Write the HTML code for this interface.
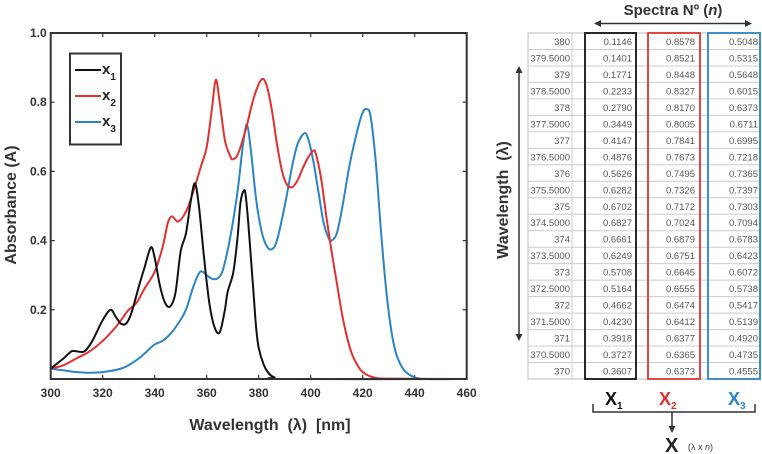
<!DOCTYPE html>
<html><head><meta charset="utf-8"><style>
body{margin:0;background:#fff;width:762px;height:454px;overflow:hidden;font-family:"Liberation Sans",sans-serif}
svg{display:block}
</style></head><body>
<svg id="s" width="762" height="454" xmlns="http://www.w3.org/2000/svg">
<g id="plot"></g>
<g id="tbl"></g>
</svg>
<script>
const xTicks=[300,320,340,360,380,400,420,440,460];
const yTicks=[0.2,0.4,0.6,0.8,1.0];
const yTickLabels=["0.2","0.4","0.6","0.8","1.0"];
const seriesNames=["x1","x2","x3"];
const x1W=[300,305,308,310,313,316,320,323,325,327,329,331,334,336,338.5,340,342,344,346,348,350,352,354,355.5,357,359,361,363,365,367,368,370,371,372,373,374.3,375,376,377,378,379,380,382,384,386,390,460];
const x1A=[0.03,0.06,0.08,0.08,0.08,0.11,0.17,0.2,0.18,0.16,0.16,0.19,0.27,0.32,0.38,0.35,0.27,0.22,0.21,0.25,0.37,0.42,0.52,0.565,0.5,0.35,0.22,0.15,0.135,0.2,0.25,0.3,0.35,0.42,0.51,0.545,0.53,0.45,0.35,0.25,0.15,0.09,0.04,0.015,0.005,0,0];
const x2W=[300,305,310,315,320,325,328,330,333,336,340,343,345,346.5,348,349,351,353,356,358,360,362,363.5,365,367,369,370,372,375,378,381,383,385,387,389,391,393,395,397,399,401,402,404,406,408,410,412,414,416,418,420,424,430,460];
const x2A=[0.03,0.04,0.06,0.08,0.11,0.15,0.18,0.2,0.22,0.26,0.31,0.38,0.45,0.47,0.46,0.455,0.47,0.5,0.57,0.62,0.67,0.78,0.865,0.8,0.69,0.645,0.635,0.65,0.72,0.81,0.865,0.85,0.78,0.68,0.6,0.56,0.555,0.575,0.61,0.64,0.66,0.65,0.58,0.47,0.37,0.28,0.19,0.12,0.07,0.04,0.02,0.005,0.001,0];
const x3W=[300,305,310,316,322,327,330,334,337,340,343,346,349,352,355,357.5,360,362,364,366,368,370,372,374,375.5,377,379,381,383,385,387,390,393,395,397.5,399,401,403,405,407,408,410,412,415,418,420,421.5,423,425,427,429,431,433,436,440,445,460];
const x3A=[0.03,0.025,0.02,0.018,0.022,0.03,0.04,0.06,0.08,0.1,0.11,0.13,0.16,0.2,0.27,0.31,0.3,0.29,0.29,0.31,0.37,0.45,0.55,0.68,0.735,0.66,0.52,0.43,0.385,0.375,0.4,0.5,0.62,0.68,0.71,0.695,0.63,0.54,0.45,0.405,0.4,0.42,0.49,0.62,0.72,0.77,0.78,0.76,0.63,0.43,0.26,0.14,0.07,0.025,0.005,0,0];
const colors=["#111","#e0312f","#2a84c6"];
const tWave=["380","379.5000","379","378.5000","378","377.5000","377","376.5000","376","375.5000","375","374.5000","374","373.5000","373","372.5000","372","371.5000","371","370.5000","370"];
const tX1=["0.1146","0.1401","0.1771","0.2233","0.2790","0.3449","0.4147","0.4876","0.5626","0.6282","0.6702","0.6827","0.6661","0.6249","0.5708","0.5164","0.4662","0.4230","0.3918","0.3727","0.3607"];
const tX2=["0.8578","0.8521","0.8448","0.8327","0.8170","0.8005","0.7841","0.7673","0.7495","0.7326","0.7172","0.7024","0.6879","0.6751","0.6645","0.6555","0.6474","0.6412","0.6377","0.6365","0.6373"];
const tX3=["0.5048","0.5315","0.5648","0.6015","0.6373","0.6711","0.6995","0.7218","0.7365","0.7397","0.7303","0.7094","0.6783","0.6423","0.6072","0.5738","0.5417","0.5139","0.4920","0.4735","0.4555"];

const NS="http://www.w3.org/2000/svg";
const L=50.7,R=466.7,T=33,B=379;
const sx=v=>L+(v-300)/160*(R-L);
const sy=v=>B-v*(B-T);
function mk(tag,attrs,parent,txt){const e=document.createElementNS(NS,tag);for(const k in attrs)e.setAttribute(k,attrs[k]);if(txt!==undefined)e.textContent=txt;parent.appendChild(e);return e;}
const P=document.getElementById('plot');
xTicks.forEach(t=>{
 const tk=mk('line',{x1:sx(t),x2:sx(t),y1:B,y2:B-4,stroke:'#333','stroke-width':1.2},P);
 
 
 const tk2=mk('line',{x1:sx(t),x2:sx(t),y1:T,y2:T+4,stroke:'#333','stroke-width':1.2},P);
 
 
 const lb=mk('text',{x:sx(t),y:B+18,'text-anchor':'middle','font-size':12,'font-weight':'bold',fill:'#333'},P,String(t));
 
 
});
yTicks.forEach((t,i)=>{
 const tk=mk('line',{x1:L,x2:L+4,y1:sy(t),y2:sy(t),stroke:'#333','stroke-width':1.2},P);
 
 
 const tk2=mk('line',{x1:R,x2:R-4,y1:sy(t),y2:sy(t),stroke:'#333','stroke-width':1.2},P);
 
 
 const lb=mk('text',{x:L-4,y:sy(t)+4,'text-anchor':'end','font-size':12,'font-weight':'bold',fill:'#333'},P,yTickLabels[i]);
 
 
});
function smooth(W,A){
 const pts=W.map((w,i)=>[sx(w),sy(A[i])]);
 let d=`M${pts[0][0]},${pts[0][1]}`;
 for(let i=0;i<pts.length-1;i++){
  const p0=pts[Math.max(0,i-1)],p1=pts[i],p2=pts[i+1],p3=pts[Math.min(pts.length-1,i+2)];
  const c1=[p1[0]+(p2[0]-p0[0])/6,p1[1]+(p2[1]-p0[1])/6];
  const c2=[p2[0]-(p3[0]-p1[0])/6,p2[1]-(p3[1]-p1[1])/6];
  d+=`C${c1[0]},${c1[1]} ${c2[0]},${c2[1]} ${p2[0]},${p2[1]}`;
 }
 return d;
}
const data=[[x1W,x1A],[x2W,x2A],[x3W,x3A]];
[2,1,0].forEach(i=>{
 const p=mk('path',{d:smooth(data[i][0],data[i][1]),fill:'none',stroke:colors[i],'stroke-width':2,'stroke-linejoin':'round'},P);
 
 
});
const fr=mk('rect',{x:L,y:T,width:R-L,height:B-T,fill:'none',stroke:'#333','stroke-width':2},P);


const lg=mk('g',{},P);


mk('rect',{x:70,y:53.5,width:51,height:91,fill:'#fff',stroke:'#333','stroke-width':2},lg);
seriesNames.forEach((n,i)=>{
 const y=70+i*26;
 const g=mk('g',{},lg);
 
 
 mk('line',{x1:75,x2:101,y1:y,y2:y,stroke:colors[i],'stroke-width':2},g);
 const t=mk('text',{x:102,y:y+4,'font-size':15,'font-weight':'bold',fill:'#222'},g,'x');
 mk('tspan',{'font-size':10,dy:6},t,String(i+1));
});
const xt=mk('text',{x:270,y:430,'text-anchor':'middle','font-size':16,'font-weight':'bold',fill:'#333'},P,'Wavelength\u00a0\u00a0(λ)\u00a0\u00a0[nm]');


const yt=mk('text',{x:0,y:0,transform:'translate(16,205) rotate(-90)','text-anchor':'middle','font-size':16,'font-weight':'bold',fill:'#333'},P,'Absorbance (A)');



const G=document.getElementById('tbl');
const tx0=528,tx1=760,ty0=33,ty1=379,rh=(ty1-ty0)/21;
mk('rect',{x:tx0,y:ty0,width:tx1-tx0,height:ty1-ty0,fill:'#fff',stroke:'#bbb','stroke-width':1},G);
for(let i=1;i<21;i++) mk('line',{x1:tx0,x2:tx1,y1:ty0+i*rh,y2:ty0+i*rh,stroke:'#ccc','stroke-width':1},G);
[572,648,708].forEach(x=>mk('line',{x1:x,x2:x,y1:ty0,y2:ty1,stroke:'#ccc','stroke-width':1},G));
const cols=[[tWave,570],[tX1,632],[tX2,695],[tX3,758]];
tWave.forEach((_,r)=>{
 cols.forEach(([arr,x],c)=>{
  const t=mk('text',{x:x,y:ty0+r*rh+12,'text-anchor':'end','font-size':9.5,fill:'#555'},G,arr[r]);
  
  
 });
});
[[585,636,colors[0],'x1'],[648,700,colors[1],'x2'],[708,760,colors[2],'x3']].forEach(([a,b,c,n])=>{
 const r=mk('rect',{x:a,y:ty0,width:b-a,height:ty1-ty0,fill:'none',stroke:c,'stroke-width':1.8},G);
 
 
});
const h=mk('text',{x:673,y:15,'text-anchor':'middle','font-size':15,'font-weight':'bold',fill:'#333'},G,'Spectra Nº (');
mk('tspan',{'font-style':'italic'},h,'n');
h.appendChild(document.createTextNode(')'));


mk('line',{x1:598,x2:748,y1:23.5,y2:23.5,stroke:'#333','stroke-width':1.5},G);
mk('path',{d:'M594,23.5 l7,-3.5 v7z M752,23.5 l-7,-3.5 v7z',fill:'#333'},G);
mk('line',{x1:519,x2:519,y1:71,y2:336,stroke:'#333','stroke-width':1.5},G);
mk('path',{d:'M519,66 l-3.5,7 h7z M519,341 l-3.5,-7 h7z',fill:'#333'},G);
const wl=mk('text',{x:0,y:0,transform:'translate(508,200) rotate(-90)','text-anchor':'middle','font-size':16,'font-weight':'bold',fill:'#333'},G,'Wavelength\u00a0\u00a0(λ)');


[[612,colors[0],'1'],[666,colors[1],'2'],[735,colors[2],'3']].forEach(([x,c,n])=>{
 const t=mk('text',{x:x-7,y:405,'font-size':18,'font-weight':'bold',fill:c},G,'X');
 mk('tspan',{'font-size':10,dy:4},t,n);
 
 
});
mk('path',{d:'M593,404 v8 H755 v-8',fill:'none',stroke:'#333','stroke-width':1.5},G);
mk('line',{x1:672,x2:672,y1:412,y2:428,stroke:'#333','stroke-width':1.5},G);
mk('path',{d:'M672,433 l-3.5,-7 h7z',fill:'#333'},G);
const X=mk('text',{x:665,y:452,'font-size':20,'font-weight':'bold',fill:'#222'},G,'X');


const dim=mk('text',{x:688,y:450,'font-size':9,fill:'#333'},G,'(λ x ');
mk('tspan',{'font-style':'italic'},dim,'n');
dim.appendChild(document.createTextNode(')'));


</script>
</body></html>
